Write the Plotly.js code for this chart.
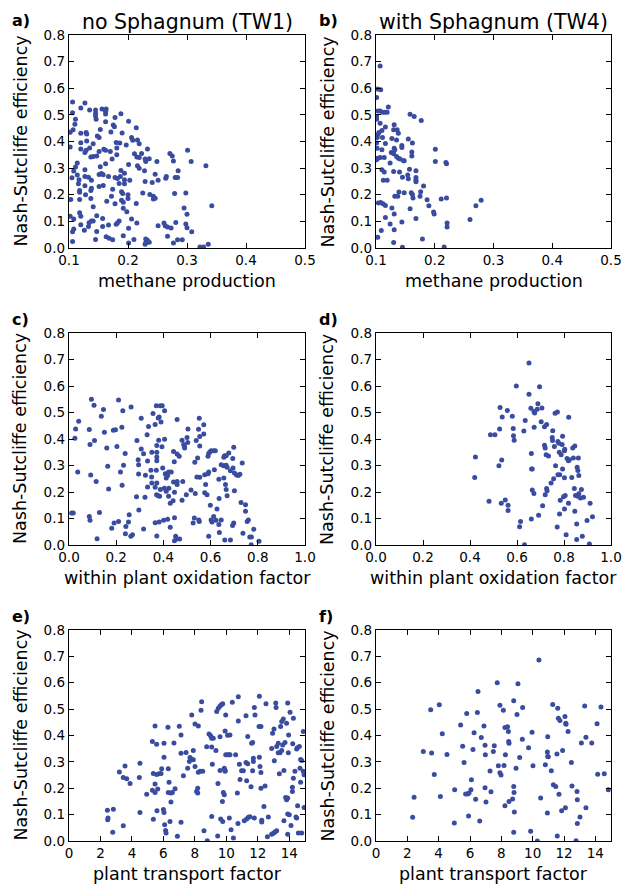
<!DOCTYPE html>
<html>
<head>
<meta charset="utf-8">
<script src="https://cdn.plot.ly/plotly-3.0.1.min.js"></script>
<style>html,body{margin:0;padding:0;background:#fff;}#chart{width:627px;height:886px;}</style>
</head>
<body>
<div id="chart"></div>
<script>
// ---------- data ----------
var columnTitles = ["no Sphagnum (TW1)", "with Sphagnum (TW4)"];
var panelLabels = ["a)", "b)", "c)", "d)", "e)", "f)"];
var xTitles = ["methane production", "methane production", "within plant oxidation factor", "within plant oxidation factor", "plant transport factor", "plant transport factor"];
var yTitle = "Nash-Sutcliffe efficiency";

var yTickVals = [0, 0.1, 0.2, 0.3, 0.4, 0.5, 0.6, 0.7, 0.8];
var yTickText = ["0.0", "0.1", "0.2", "0.3", "0.4", "0.5", "0.6", "0.7", "0.8"];
var prodTickVals = [0.1, 0.2, 0.3, 0.4, 0.5];
var prodTickText = ["0.1", "0.2", "0.3", "0.4", "0.5"];
var oxTickVals = [0, 0.2, 0.4, 0.6, 0.8, 1.0];
var oxTickText = ["0.0", "0.2", "0.4", "0.6", "0.8", "1.0"];
var trTickVals = [0, 2, 4, 6, 8, 10, 12, 14];
var trTickText = ["0", "2", "4", "6", "8", "10", "12", "14"];

// a) methane production, TW1
var aX = [0.106,0.127,0.106,0.120,0.135,0.145,0.145,0.145,0.146,0.156,0.163,0.162,0.162,0.111,0.110,0.107,0.102,0.188,0.178,0.201,0.162,0.175,0.177,0.214,0.153,0.171,0.120,0.129,0.130,0.148,0.151,0.190,0.206,0.208,0.216,0.219,0.130,0.102,0.120,0.141,0.180,0.186,0.197,0.120,0.129,0.127,0.135,0.159,0.162,0.170,0.181,0.137,0.141,0.147,0.151,0.173,0.181,0.211,0.215,0.219,0.223,0.233,0.229,0.230,0.236,0.271,0.275,0.277,0.301,0.307,0.249,0.332,0.114,0.111,0.153,0.162,0.201,0.216,0.219,0.188,0.194,0.228,0.108,0.127,0.151,0.155,0.158,0.167,0.178,0.182,0.187,0.133,0.138,0.114,0.105,0.127,0.117,0.116,0.194,0.185,0.194,0.203,0.229,0.246,0.241,0.251,0.264,0.265,0.280,0.284,0.285,0.279,0.298,0.127,0.151,0.158,0.137,0.138,0.118,0.118,0.128,0.174,0.189,0.191,0.200,0.200,0.172,0.137,0.118,0.103,0.164,0.189,0.192,0.178,0.214,0.225,0.237,0.243,0.246,0.243,0.192,0.198,0.141,0.295,0.300,0.342,0.118,0.120,0.147,0.157,0.108,0.102,0.206,0.185,0.182,0.180,0.138,0.134,0.141,0.120,0.133,0.167,0.157,0.215,0.251,0.261,0.263,0.267,0.273,0.281,0.298,0.300,0.308,0.108,0.106,0.126,0.147,0.201,0.267,0.145,0.163,0.168,0.174,0.192,0.210,0.201,0.230,0.233,0.230,0.236,0.229,0.277,0.284,0.292,0.106,0.336,0.322,0.328];
var aY = [0.548,0.545,0.508,0.526,0.518,0.518,0.505,0.496,0.484,0.522,0.522,0.514,0.503,0.484,0.465,0.444,0.435,0.504,0.490,0.476,0.474,0.462,0.455,0.452,0.445,0.436,0.431,0.434,0.428,0.421,0.415,0.432,0.415,0.405,0.406,0.392,0.402,0.379,0.395,0.392,0.396,0.394,0.387,0.372,0.367,0.359,0.376,0.371,0.367,0.362,0.376,0.342,0.344,0.346,0.362,0.334,0.350,0.354,0.342,0.340,0.355,0.372,0.334,0.325,0.335,0.355,0.346,0.327,0.367,0.325,0.325,0.309,0.319,0.304,0.305,0.316,0.314,0.309,0.300,0.291,0.281,0.290,0.289,0.294,0.276,0.280,0.275,0.269,0.265,0.261,0.269,0.266,0.254,0.274,0.264,0.269,0.256,0.241,0.256,0.242,0.241,0.254,0.250,0.277,0.246,0.254,0.262,0.269,0.265,0.265,0.290,0.205,0.207,0.234,0.231,0.235,0.216,0.224,0.216,0.209,0.200,0.221,0.211,0.205,0.200,0.186,0.194,0.186,0.182,0.182,0.176,0.179,0.172,0.166,0.167,0.207,0.201,0.194,0.187,0.184,0.149,0.136,0.155,0.150,0.127,0.159,0.132,0.119,0.121,0.111,0.109,0.119,0.109,0.101,0.094,0.089,0.101,0.095,0.101,0.087,0.081,0.086,0.081,0.094,0.084,0.094,0.084,0.079,0.075,0.096,0.090,0.076,0.061,0.071,0.061,0.067,0.062,0.074,0.044,0.032,0.042,0.037,0.031,0.046,0.032,0.019,0.034,0.029,0.019,0.022,0.014,0.019,0.031,0.031,0.024,0.014,0.004,0.004];

// b) methane production, TW4
var bX = [0.107,0.103,0.108,0.101,0.103,0.107,0.111,0.115,0.119,0.121,0.101,0.101,0.107,0.116,0.110,0.105,0.103,0.102,0.111,0.131,0.130,0.136,0.138,0.127,0.135,0.158,0.165,0.177,0.155,0.162,0.144,0.144,0.116,0.102,0.110,0.126,0.130,0.132,0.131,0.135,0.138,0.141,0.147,0.148,0.161,0.161,0.103,0.107,0.114,0.101,0.124,0.110,0.114,0.130,0.140,0.157,0.168,0.154,0.155,0.145,0.168,0.168,0.168,0.1125,0.119,0.181,0.201,0.201,0.219,0.220,0.139,0.132,0.137,0.148,0.160,0.162,0.163,0.176,0.175,0.187,0.190,0.211,0.220,0.104,0.108,0.112,0.116,0.127,0.131,0.158,0.116,0.124,0.144,0.168,0.198,0.199,0.221,0.221,0.260,0.270,0.279,0.109,0.131,0.103,0.130,0.179,0.145,0.216,0.101];
var bY = [0.684,0.5975,0.594,0.565,0.515,0.515,0.510,0.510,0.510,0.530,0.494,0.484,0.469,0.454,0.441,0.434,0.425,0.415,0.415,0.4625,0.444,0.444,0.431,0.411,0.406,0.5025,0.494,0.479,0.409,0.394,0.385,0.3775,0.3925,0.375,0.369,0.359,0.354,0.369,0.375,0.344,0.3375,0.334,0.3275,0.3275,0.361,0.346,0.3375,0.340,0.340,0.331,0.319,0.294,0.285,0.2875,0.285,0.296,0.290,0.274,0.260,0.266,0.265,0.254,0.249,0.254,0.254,0.2325,0.371,0.325,0.321,0.316,0.210,0.194,0.194,0.2075,0.2075,0.201,0.1875,0.211,0.194,0.181,0.159,0.184,0.1875,0.169,0.171,0.166,0.160,0.150,0.1275,0.1475,0.115,0.090,0.0975,0.111,0.135,0.1275,0.094,0.079,0.1075,0.159,0.179,0.066,0.069,0.040,0.021,0.034,0.0025,0.004,0.394];

// c) within plant oxidation factor, TW1
var cX = [0.095,0.106,0.146,0.137,0.210,0.228,0.263,0.041,0.028,0.025,0.086,0.108,0.089,0.150,0.188,0.197,0.224,0.160,0.203,0.238,0.037,0.092,0.115,0.164,0.218,0.231,0.225,0.168,0.288,0.306,0.337,0.331,0.356,0.370,0.387,0.395,0.405,0.382,0.390,0.378,0.365,0.380,0.394,0.372,0.405,0.306,0.316,0.351,0.372,0.293,0.295,0.333,0.372,0.372,0.295,0.324,0.347,0.370,0.350,0.351,0.372,0.365,0.397,0.408,0.418,0.412,0.422,0.433,0.443,0.458,0.467,0.446,0.458,0.479,0.489,0.490,0.486,0.504,0.500,0.503,0.482,0.443,0.447,0.412,0.422,0.423,0.429,0.441,0.458,0.458,0.479,0.497,0.517,0.535,0.533,0.545,0.542,0.554,0.552,0.549,0.554,0.571,0.571,0.539,0.554,0.575,0.589,0.592,0.589,0.592,0.596,0.602,0.613,0.620,0.616,0.579,0.585,0.575,0.599,0.627,0.635,0.636,0.656,0.659,0.666,0.645,0.656,0.666,0.670,0.656,0.663,0.666,0.670,0.677,0.684,0.698,0.694,0.695,0.701,0.710,0.717,0.724,0.701,0.734,0.729,0.748,0.748,0.755,0.760,0.783,0.766,0.773,0.805,0.772,0.011,0.018,0.086,0.089,0.129,0.119,0.181,0.191,0.210,0.239,0.241,0.252,0.255,0.262,0.269,0.296,0.316,0.286,0.322,0.333,0.371,0.378,0.384,0.387,0.404,0.365,0.382,0.372,0.401,0.418,0.429,0.447,0.452,0.455,0.469,0.447,0.531,0.552,0.526,0.550,0.592,0.606,0.613,0.623,0.602,0.635,0.637,0.645,0.660,0.684,0.693,0.698,0.737];
var cY = [0.550,0.527,0.511,0.486,0.547,0.507,0.521,0.467,0.438,0.4025,0.436,0.394,0.379,0.425,0.433,0.435,0.444,0.366,0.372,0.345,0.275,0.264,0.240,0.297,0.275,0.301,0.225,0.211,0.394,0.478,0.447,0.416,0.496,0.525,0.525,0.525,0.507,0.483,0.464,0.479,0.455,0.395,0.371,0.375,0.399,0.362,0.344,0.350,0.350,0.322,0.303,0.317,0.332,0.318,0.268,0.263,0.282,0.282,0.257,0.234,0.234,0.218,0.291,0.269,0.262,0.253,0.275,0.275,0.353,0.343,0.335,0.314,0.474,0.395,0.374,0.366,0.379,0.438,0.406,0.387,0.240,0.238,0.199,0.203,0.184,0.214,0.158,0.167,0.240,0.228,0.169,0.190,0.208,0.194,0.312,0.328,0.257,0.256,0.478,0.437,0.409,0.454,0.419,0.394,0.374,0.265,0.269,0.275,0.335,0.345,0.350,0.356,0.356,0.356,0.284,0.228,0.190,0.197,0.150,0.136,0.248,0.175,0.331,0.337,0.337,0.303,0.299,0.301,0.293,0.253,0.228,0.209,0.186,0.347,0.280,0.369,0.326,0.291,0.272,0.264,0.262,0.267,0.205,0.309,0.160,0.152,0.127,0.089,0.094,0.059,0.030,0.030,0.014,0.001,0.121,0.121,0.108,0.093,0.123,0.024,0.063,0.083,0.089,0.042,0.070,0.087,0.114,0.033,0.039,0.132,0.060,0.182,0.180,0.219,0.190,0.186,0.184,0.209,0.214,0.084,0.087,0.034,0.093,0.097,0.067,0.103,0.033,0.023,0.023,0.016,0.102,0.089,0.083,0.094,0.033,0.087,0.108,0.093,0.094,0.077,0.047,0.094,0.019,0.019,0.074,0.083,0.044];

// d) within plant oxidation factor, TW4
var dX = [0.651,0.597,0.696,0.651,0.689,0.706,0.659,0.672,0.686,0.675,0.528,0.559,0.537,0.580,0.635,0.703,0.526,0.584,0.487,0.506,0.585,0.588,0.629,0.673,0.717,0.726,0.762,0.772,0.820,0.752,0.750,0.751,0.774,0.778,0.794,0.759,0.717,0.720,0.724,0.734,0.780,0.788,0.792,0.802,0.803,0.813,0.819,0.823,0.840,0.837,0.846,0.861,0.764,0.774,0.782,0.794,0.756,0.802,0.745,0.726,0.728,0.720,0.784,0.798,0.805,0.819,0.802,0.781,0.771,0.809,0.833,0.844,0.849,0.859,0.863,0.870,0.874,0.883,0.856,0.859,0.863,0.846,0.911,0.898,0.921,0.854,0.878,0.854,0.908,0.661,0.662,0.665,0.665,0.672,0.661,0.692,0.709,0.615,0.611,0.632,0.423,0.420,0.481,0.523,0.535,0.533,0.550,0.562,0.562];
var dY = [0.687,0.600,0.597,0.569,0.533,0.517,0.516,0.504,0.512,0.498,0.519,0.508,0.483,0.486,0.470,0.465,0.438,0.440,0.416,0.416,0.412,0.395,0.430,0.444,0.446,0.455,0.497,0.502,0.482,0.431,0.406,0.394,0.391,0.384,0.410,0.372,0.376,0.366,0.341,0.336,0.350,0.341,0.379,0.356,0.361,0.326,0.318,0.322,0.328,0.366,0.374,0.328,0.299,0.265,0.265,0.287,0.250,0.254,0.234,0.213,0.205,0.190,0.169,0.182,0.187,0.158,0.136,0.117,0.068,0.039,0.255,0.213,0.187,0.184,0.193,0.177,0.209,0.180,0.293,0.281,0.262,0.127,0.158,0.092,0.107,0.079,0.033,0.021,0.004,0.345,0.287,0.287,0.208,0.194,0.098,0.112,0.148,0.089,0.069,0.001,0.332,0.255,0.165,0.299,0.321,0.158,0.170,0.150,0.130];

// e) plant transport factor, TW1
var eX = [2.44,2.48,2.46,2.82,2.78,3.20,3.56,3.45,3.67,3.88,3.45,4.51,4.47,4.51,4.94,5.30,5.47,5.57,5.36,5.57,5.72,5.85,5.47,5.30,5.47,5.64,5.89,5.59,5.36,6.04,6.04,6.00,6.04,6.08,6.14,6.17,6.29,6.31,6.36,6.31,6.48,6.57,6.48,6.42,6.74,6.67,7.01,7.12,7.12,7.27,6.89,7.12,7.44,7.54,7.65,7.69,7.80,7.90,7.80,7.90,8.01,8.22,8.01,8.11,8.18,8.18,8.22,8.33,8.50,8.43,8.39,8.58,8.75,8.79,8.90,9.00,9.07,9.17,9.07,9.34,9.11,9.07,9.39,9.49,9.60,9.70,9.77,9.47,9.60,9.45,9.60,9.75,9.81,9.87,9.64,9.77,9.87,9.92,9.92,9.92,9.96,9.96,10.08,10.17,10.23,10.08,10.23,10.38,10.30,10.19,10.45,10.59,10.70,10.76,10.76,10.74,10.83,10.87,10.97,11.08,11.14,11.25,11.36,11.25,11.29,11.40,11.29,11.36,11.57,11.50,11.61,11.67,11.67,11.72,11.72,11.78,11.82,11.78,12.08,12.20,12.10,12.14,12.20,12.20,12.10,12.25,12.25,12.39,12.46,12.52,12.67,12.61,12.88,12.94,13.03,13.05,12.88,12.99,13.09,13.20,13.14,13.16,13.20,13.30,13.37,13.30,13.41,13.52,13.45,13.52,13.62,13.58,13.73,13.66,13.66,13.77,13.83,13.90,13.83,13.90,13.90,13.94,13.96,13.90,14.00,14.05,14.11,14.20,14.20,14.26,14.22,14.26,14.36,14.47,14.51,14.43,14.47,14.53,14.64,14.68,14.72,14.79,14.72,14.58,14.79,14.89,14.89,14.94,14.94];
var eY = [0.117,0.087,0.081,0.120,0.033,0.262,0.284,0.241,0.236,0.218,0.058,0.295,0.241,0.108,0.177,0.377,0.436,0.367,0.256,0.252,0.255,0.256,0.216,0.192,0.184,0.197,0.274,0.115,0.082,0.371,0.318,0.119,0.108,0.062,0.040,0.030,0.431,0.274,0.223,0.184,0.182,0.184,0.148,0.074,0.198,0.372,0.435,0.402,0.333,0.247,0.018,0.071,0.336,0.276,0.301,0.317,0.310,0.308,0.478,0.343,0.444,0.436,0.282,0.188,0.200,0.182,0.261,0.264,0.264,0.528,0.496,0.039,0.357,0.001,0.406,0.399,0.390,0.390,0.356,0.343,0.291,0.093,0.491,0.503,0.512,0.518,0.520,0.218,0.267,0.019,0.395,0.150,0.184,0.175,0.083,0.074,0.276,0.267,0.264,0.417,0.478,0.327,0.327,0.327,0.327,0.401,0.402,0.526,0.043,0.087,0.011,0.327,0.182,0.455,0.547,0.066,0.291,0.233,0.266,0.266,0.077,0.298,0.293,0.475,0.083,0.090,0.228,0.396,0.206,0.092,0.371,0.373,0.266,0.301,0.314,0.087,0.478,0.506,0.434,0.434,0.318,0.282,0.260,0.200,0.549,0.079,0.072,0.131,0.209,0.520,0.091,0.016,0.351,0.409,0.425,0.304,0.026,0.029,0.034,0.039,0.523,0.506,0.358,0.371,0.255,0.335,0.335,0.343,0.434,0.453,0.463,0.364,0.373,0.267,0.077,0.165,0.156,0.163,0.446,0.523,0.026,0.335,0.402,0.102,0.100,0.488,0.059,0.188,0.204,0.238,0.369,0.465,0.264,0.349,0.354,0.091,0.087,0.134,0.358,0.276,0.309,0.305,0.223,0.030,0.030,0.415,0.264,0.251,0.127];

// f) plant transport factor, TW4
var fX = [2.34,2.43,3.02,3.49,3.55,3.72,4.04,4.11,4.23,4.53,5.00,5.02,5.40,5.53,5.62,5.72,5.85,5.94,5.79,5.91,6.06,6.09,6.19,6.26,6.36,6.47,6.51,6.62,6.72,6.89,6.96,6.98,6.96,7.02,7.28,7.34,7.49,7.55,7.74,7.81,7.91,7.91,7.98,8.13,8.17,8.23,8.40,8.45,8.26,8.23,8.47,8.49,8.49,8.72,8.79,8.79,8.81,8.83,8.79,8.94,9.00,9.06,9.17,9.34,9.36,9.74,9.87,9.96,10.02,10.30,10.40,10.51,10.81,10.94,10.96,11.00,10.96,10.94,11.19,11.28,11.32,11.47,11.55,11.57,11.60,11.64,11.74,11.68,11.85,11.91,12.06,12.11,12.13,12.09,12.26,12.47,12.51,12.77,12.83,12.85,12.85,13.02,13.11,13.32,13.40,13.40,13.77,14.11,14.15,14.36,14.57,14.83];
var fY = [0.090,0.166,0.339,0.498,0.334,0.252,0.517,0.169,0.407,0.328,0.068,0.194,0.440,0.359,0.298,0.178,0.178,0.182,0.483,0.095,0.194,0.232,0.347,0.410,0.158,0.487,0.567,0.076,0.392,0.436,0.363,0.327,0.202,0.148,0.265,0.187,0.339,0.361,0.600,0.285,0.515,0.259,0.250,0.496,0.286,0.430,0.433,0.415,0.327,0.134,0.377,0.371,0.150,0.159,0.532,0.207,0.184,0.110,0.033,0.276,0.480,0.596,0.317,0.386,0.506,0.354,0.037,0.412,0.285,0.000,0.686,0.163,0.289,0.337,0.320,0.319,0.395,0.106,0.266,0.518,0.213,0.207,0.330,0.019,0.503,0.465,0.457,0.177,0.115,0.343,0.472,0.446,0.443,0.126,0.415,0.298,0.209,0.001,0.188,0.156,0.066,0.091,0.372,0.512,0.393,0.126,0.372,0.445,0.253,0.508,0.255,0.194];

// ---------- layout ----------
var W = 627, H = 886;
var FONT = "DejaVu Sans, Bitstream Vera Sans, sans-serif";
var DOT = "#394c9f";
function px(x) { return x / W; }
function py(y) { return 1 - y / H; }

var colPx = [[69, 305], [376, 611]];
var rowPx = [[35, 248], [333, 545], [630, 841]];

var seriesX = [aX, bX, cX, dX, eX, fX];
var seriesY = [aY, bY, cY, dY, eY, fY];
var xRanges = [[0.1, 0.5], [0.1, 0.5], [0, 1], [0, 1], [0, 15], [0, 15]];
var xTicks = [[prodTickVals, prodTickText], [prodTickVals, prodTickText], [oxTickVals, oxTickText], [oxTickVals, oxTickText], [trTickVals, trTickText], [trTickVals, trTickText]];

var traces = [];
var layout = {
  width: W, height: H,
  margin: {l: 0, r: 0, t: 0, b: 0, pad: 0},
  paper_bgcolor: "#fff", plot_bgcolor: "#fff",
  showlegend: false,
  font: {family: FONT, color: "#000", size: 13.5},
  annotations: []
};

function axisBase() {
  return {
    showline: true, linecolor: "#000", linewidth: 1.2, mirror: "allticks",
    ticks: "inside", ticklen: 5, tickwidth: 1, tickcolor: "#000",
    showgrid: false, zeroline: false, fixedrange: true,
    tickfont: {family: FONT, size: 13.5, color: "#000"}
  };
}

for (var i = 0; i < 6; i++) {
  var col = i % 2, row = Math.floor(i / 2);
  var n = i === 0 ? "" : String(i + 1);
  traces.push({
    type: "scatter", mode: "markers",
    x: seriesX[i], y: seriesY[i],
    xaxis: "x" + n, yaxis: "y" + n,
    marker: {size: 5, color: DOT, line: {width: 0}},
    hoverinfo: "skip"
  });
  var xa = axisBase();
  xa.domain = [px(colPx[col][0]), px(colPx[col][1])];
  xa.range = xRanges[i];
  xa.tickmode = "array"; xa.tickvals = xTicks[i][0]; xa.ticktext = xTicks[i][1];
  xa.anchor = "y" + n;
  var ya = axisBase();
  ya.domain = [py(rowPx[row][1]), py(rowPx[row][0])];
  ya.range = [0, 0.8];
  ya.tickmode = "array"; ya.tickvals = yTickVals; ya.ticktext = yTickText;
  ya.anchor = "x" + n;
  layout["xaxis" + n] = xa;
  layout["yaxis" + n] = ya;

  var cx = (colPx[col][0] + colPx[col][1]) / 2;
  var cy = (rowPx[row][0] + rowPx[row][1]) / 2;
  // x-axis title
  layout.annotations.push({
    text: xTitles[i], xref: "paper", yref: "paper",
    x: px(cx), y: py(rowPx[row][1] + 33), xanchor: "center", yanchor: "middle",
    showarrow: false, font: {family: FONT, size: 17.5, color: "#000"}
  });
  // y-axis title
  layout.annotations.push({
    text: yTitle, xref: "paper", yref: "paper", textangle: -90,
    x: px(colPx[col][0] - 49), y: py(cy), xanchor: "center", yanchor: "middle",
    showarrow: false, font: {family: FONT, size: 17.5, color: "#000"}
  });
  // panel label
  layout.annotations.push({
    text: "<b>" + panelLabels[i] + "</b>", xref: "paper", yref: "paper",
    x: px(colPx[col][0] - 59), y: py(rowPx[row][0] - 14), xanchor: "left", yanchor: "middle",
    showarrow: false, font: {family: FONT, size: 16, color: "#000"}
  });
}
// column titles
for (var c = 0; c < 2; c++) {
  layout.annotations.push({
    text: columnTitles[c], xref: "paper", yref: "paper",
    x: px((colPx[c][0] + colPx[c][1]) / 2), y: py(rowPx[0][0] - 13), xanchor: "center", yanchor: "middle",
    showarrow: false, font: {family: FONT, size: 20.5, color: "#000"}
  });
}

Plotly.newPlot("chart", traces, layout, {staticPlot: true, displayModeBar: false});
</script>
</body>
</html>
